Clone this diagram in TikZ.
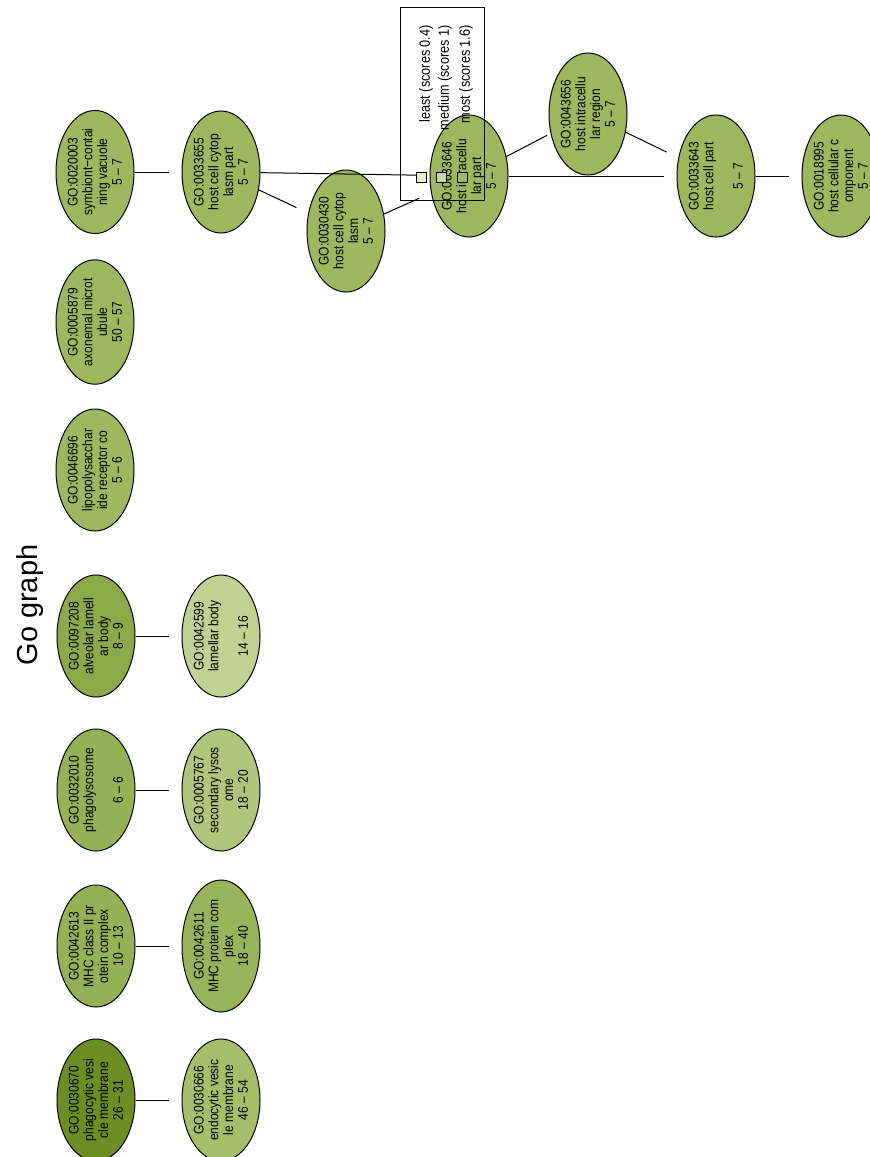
\documentclass[tikz,border=0pt]{standalone}
\usepackage{fontspec}
\setmainfont{Liberation Sans}
\newfontfamily\gofont[FakeStretch=0.86]{Liberation Sans}
\usepackage{xcolor}
\usepackage{tikz}
\usetikzlibrary{shapes.geometric}
\definecolor{gobase}{RGB}{157,183,95}
\definecolor{godark}{RGB}{107,142,35}
\definecolor{godeep}{RGB}{140,170,74}
\definecolor{gomid}{RGB}{149,177,85}
\definecolor{gomidl}{RGB}{152,180,90}
\definecolor{gosoft}{RGB}{164,190,106}
\definecolor{golight}{RGB}{176,198,124}
\definecolor{gopale}{RGB}{192,209,146}
\definecolor{keyleast}{RGB}{233,238,199}
\definecolor{keymedium}{RGB}{204,217,160}
\definecolor{keymost}{RGB}{158,184,100}
\tikzset{
  goterm/.style={ellipse, draw, line width=1bp, rotate=90, minimum width=122bp,
                 minimum height=78bp, inner sep=0pt, align=center,
                 font=\gofont\fontsize{14}{14.8}\selectfont, fill=gobase},
  goedge/.style={line width=1bp, shorten >=13bp},
  gotitle/.style={rotate=90, font=\fontsize{29}{34}\selectfont},
  keybox/.style={draw, line width=0.8bp, minimum size=10bp, inner sep=0pt},
  keytext/.style={rotate=90, anchor=east, inner sep=0pt, font=\gofont\fontsize{14.8}{16}\selectfont},
}
\begin{document}
\begin{tikzpicture}[x=1bp, y=-1bp]
  \useasboundingbox (0,0) rectangle (870,1157);
  \node[gotitle] (title) at (30,605) {Go graph};

  \node[goterm]                (n20003) at (95,172)   {GO:0020003\\symbiont−contai\\ning vacuole\\5 – 7};
  \node[goterm]                (n05879) at (95,322)   {GO:0005879\\axonemal microt\\ubule\\50 – 57};
  \node[goterm]                (n46696) at (95,470)   {GO:0046696\\lipopolysacchar\\ide receptor co\\5 – 6};
  \node[goterm, fill=godeep]   (n97208) at (96,636)   {GO:0097208\\alveolar lamell\\ar body\\8 – 9};
  \node[goterm, fill=gomid]    (n32010) at (96,790)   {GO:0032010\\phagolysosome\\~\\6 – 6};
  \node[goterm, fill=gomid]    (n42613) at (96,946)   {GO:0042613\\MHC class II pr\\otein complex\\10 – 13};
  \node[goterm, fill=godark]   (n30670) at (96,1100)  {GO:0030670\\phagocytic vesi\\cle membrane\\26 – 31};

  \node[goterm]                (n33655) at (221,172)  {GO:0033655\\host cell cytop\\lasm part\\5 – 7};
  \node[goterm, fill=gopale]   (n42599) at (221,636)  {GO:0042599\\lamellar body\\~\\14 – 16};
  \node[goterm, fill=golight]  (n05767) at (221,790)  {GO:0005767\\secondary lysos\\ome\\18 – 20};
  \node[goterm, fill=gomidl]   (n42611) at (221,946)  {GO:0042611\\MHC protein com\\plex\\18 – 40};
  \node[goterm, fill=gosoft]   (n30666) at (221,1100) {GO:0030666\\endocytic vesic\\le membrane\\46 – 54};

  \node[goterm]                (n30430) at (346,231)  {GO:0030430\\host cell cytop\\lasm\\5 – 7};
  \node[goterm]                (n33646) at (469,176)  {GO:0033646\\host intracellu\\lar part\\5 – 7};
  \node[goterm]                (n43656) at (588,114)  {GO:0043656\\host intracellu\\lar region\\5 – 7};
  \node[goterm]                (n33643) at (716,176)  {GO:0033643\\host cell part\\~\\5 – 7};
  \node[goterm]                (n18995) at (841,176)  {GO:0018995\\host cellular c\\omponent\\5 – 7};

  \draw[goedge] (n20003) -- (n33655);
  \draw[goedge] (n97208) -- (n42599);
  \draw[goedge] (n32010) -- (n05767);
  \draw[goedge] (n42613) -- (n42611);
  \draw[goedge] (n30670) -- (n30666);
  \draw[goedge] (n33655) -- (n33646);
  \draw[goedge] (n33655) -- (n30430);
  \draw[goedge] (n30430) -- (n33646);
  \draw[goedge, shorten >=4bp] (n33646) -- (n43656);
  \draw[goedge] (n33646) -- (n33643);
  \draw[goedge] (n43656) -- (n33643);
  \draw[goedge] (n33643) -- (n18995);

  \draw[line width=0.8bp] (400,7) rectangle (484,200);
  \node[keybox, fill=keyleast]  (kleast)  at (421,177) {};
  \node[keybox, fill=keymedium] (kmedium) at (441.5,177) {};
  \node[keybox, fill=keymost]   (kmost)   at (462,177) {};
  \node[keytext] (tleast)  at (426,25) {least (scores 0.4)};
  \node[keytext] (tmedium) at (445,25) {medium (scores 1)};
  \node[keytext] (tmost)   at (466,25) {most (scores 1.6)};
\end{tikzpicture}
\end{document}
